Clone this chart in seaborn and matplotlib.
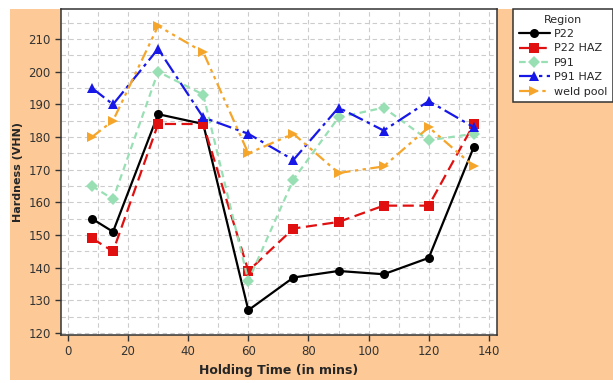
import pandas as pd
import matplotlib.pyplot as plt
import seaborn as sns
from matplotlib.patches import Rectangle
from matplotlib.ticker import MultipleLocator

# Hardness vs holding time for each weld region
holding_time = [8, 15, 30, 45, 60, 75, 90, 105, 120, 135]
p22 = [155, 151, 187, 184, 127, 137, 139, 138, 143, 177]
p22_haz = [149, 145, 184, 184, 139, 152, 154, 159, 159, 184]
p91 = [165, 161, 200, 193, 136, 167, 186, 189, 179, 181]
p91_haz = [195, 190, 207, 186, 181, 173, 189, 182, 191, 183]
weld_pool = [180, 185, 214, 206, 175, 181, 169, 171, 183, 171]
regions = ['P22', 'P22 HAZ', 'P91', 'P91 HAZ', 'weld pool']

rows = []
for name, vals in zip(regions, [p22, p22_haz, p91, p91_haz, weld_pool]):
    for t, v in zip(holding_time, vals):
        rows.append({'Holding Time': t, 'Hardness': v, 'Region': name})
df = pd.DataFrame(rows)

sns.set_style('white')
plt.rcParams['font.family'] = ['DejaVu Sans']

fig = plt.figure(figsize=(6.13, 3.83), dpi=100, facecolor='white')
fig.patches.append(Rectangle((10/613, 3/383), 1 - 10/613, 371/383,
                             transform=fig.transFigure, facecolor='#fcc997',
                             edgecolor='none', zorder=-10))
ax = fig.add_axes([61/613, 1 - 335/383, (497 - 61)/613, (335 - 9)/383])
ax.set_facecolor('white')

palette = {'P22': 'black', 'P22 HAZ': '#e01010', 'P91': '#98e0b4',
           'P91 HAZ': '#1717e8', 'weld pool': '#f5a52a'}
markers = {'P22': 'o', 'P22 HAZ': 's', 'P91': 'D', 'P91 HAZ': '^', 'weld pool': '>'}
dashes = {'P22': '', 'P22 HAZ': (5, 2.5), 'P91': (3, 2), 'P91 HAZ': (7, 2, 1.5, 2),
          'weld pool': (5, 2, 1.5, 2, 1.5, 2)}

sns.lineplot(data=df, x='Holding Time', y='Hardness', hue='Region', style='Region',
             hue_order=regions, style_order=regions, palette=palette,
             markers=markers, dashes=dashes, linewidth=1.6, markersize=6.5,
             markeredgewidth=0, ax=ax, legend=True)

ax.set_xlim(-2.3, 142.7)
ax.set_ylim(119.4, 219.2)
ax.xaxis.set_major_locator(MultipleLocator(20))
ax.xaxis.set_minor_locator(MultipleLocator(10))
ax.yaxis.set_major_locator(MultipleLocator(10))
ax.yaxis.set_minor_locator(MultipleLocator(5))
ax.grid(True, which='both', linestyle=(0, (4, 3)), color='#cccccc', linewidth=0.8)
ax.set_axisbelow(True)
ax.tick_params(axis='both', which='major', direction='out', length=4, width=1,
               color='#333333', labelsize=8.5, labelcolor='#333333', left=True, bottom=True)
for s in ax.spines.values():
    s.set_color('#333333')
    s.set_linewidth(1.1)

ax.set_xlabel('Holding Time (in mins)', fontsize=9, fontweight='bold')
ax.set_ylabel('Hardness (VHN)', fontsize=8, fontweight='bold')

handles, labels = ax.get_legend_handles_labels()
ax.get_legend().remove()
leg = fig.legend(handles, labels, title='Region', loc='upper left',
                 bbox_to_anchor=(513/613, 1 - 9/383), frameon=True, fontsize=8,
                 title_fontsize=8, fancybox=False, borderpad=0.5, labelspacing=0.4,
                 handlelength=2.8, handletextpad=0.4, borderaxespad=0, framealpha=1)
leg.get_frame().set_edgecolor('#333333')
leg.get_frame().set_facecolor('white')
leg.get_frame().set_linewidth(1.1)

plt.savefig('out.png', dpi=100, facecolor='white')
